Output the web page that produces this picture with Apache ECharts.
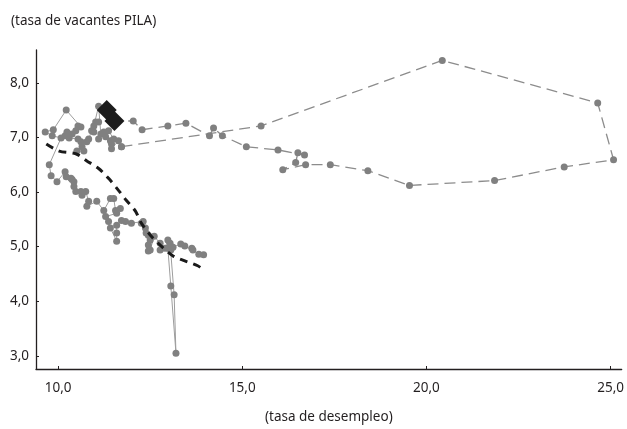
<!DOCTYPE html>
<html>
<head>
<meta charset="utf-8">
<script src="https://cdn.jsdelivr.net/npm/echarts@6/dist/echarts.min.js"></script>
<style>
    html, body { margin: 0; padding: 0; background: #fff; }
    #chart { width: 627px; height: 429px; }
</style>
</head>
<body>
<div id="chart"></div>
<script>
// tasa de desempleo (x), tasa de vacantes PILA (y)
const tramoHistoricoBajo = [
    [13.95, 4.85], [13.82, 4.86], [13.66, 4.94], [13.63, 4.97], [13.44, 5.01], [13.33, 5.05],
    [13.12, 4.99], [13.06, 4.94], [12.98, 4.97], [13.06, 4.28], [13.20, 3.05], [13.15, 4.12],
    [13.04, 5.06], [12.98, 5.12], [12.90, 4.97], [12.77, 4.94], [12.77, 5.06], [12.61, 5.19],
    [12.50, 4.94], [12.45, 4.92], [12.45, 5.03], [12.50, 5.12], [12.39, 5.25], [12.45, 5.21],
    [12.37, 5.34], [12.31, 5.46], [12.26, 5.43], [11.99, 5.43], [11.83, 5.46], [11.72, 5.48],
    [11.59, 5.39], [11.59, 5.25], [11.59, 5.10], [11.42, 5.34], [11.37, 5.46], [11.29, 5.55],
    [11.59, 5.61], [11.69, 5.70], [11.56, 5.66], [11.51, 5.88], [11.42, 5.88], [11.24, 5.66],
    [11.05, 5.83], [10.78, 5.74], [10.83, 5.83], [10.75, 6.01], [10.65, 5.94], [10.62, 6.01],
    [10.48, 6.01], [10.43, 6.10], [10.43, 6.19], [10.38, 6.23], [10.35, 6.25], [10.22, 6.28],
    [10.19, 6.37], [9.97, 6.19], [9.81, 6.30], [9.76, 6.50]
];
const tramoHistoricoAlto = [
    [10.08, 6.99], [9.84, 7.03], [9.65, 7.10], [9.87, 7.14], [10.22, 7.50], [10.62, 7.19],
    [10.54, 7.21], [10.48, 7.12], [10.38, 7.06], [10.24, 7.10], [10.19, 7.03], [10.30, 6.99],
    [10.54, 6.97], [10.62, 6.92], [10.65, 6.83], [10.70, 6.75], [10.51, 6.75], [10.78, 6.92],
    [10.83, 6.97], [10.91, 7.12], [10.97, 7.10], [11.02, 7.28], [11.10, 7.28], [10.97, 7.21],
    [11.10, 7.57], [11.16, 7.06], [11.10, 6.97], [11.24, 7.10], [11.29, 7.01], [11.37, 7.12],
    [11.51, 6.97], [11.42, 6.94], [11.45, 6.88], [11.45, 6.79], [11.64, 6.94], [11.72, 6.83]
];
const trayectoriaPandemia = [
    [11.72, 6.83], [15.51, 7.21], [20.43, 8.41], [24.65, 7.63], [25.08, 6.59], [23.74, 6.46],
    [21.85, 6.21], [19.54, 6.12], [18.41, 6.39], [17.39, 6.50], [16.72, 6.50], [16.10, 6.41],
    [16.45, 6.54], [16.51, 6.72], [16.69, 6.68], [15.97, 6.77], [15.11, 6.83], [14.46, 7.03],
    [14.22, 7.17], [14.11, 7.03], [13.47, 7.26], [12.98, 7.21], [12.28, 7.14], [12.04, 7.30],
    [11.53, 7.30], [11.32, 7.50]
];
const puntosRecientes = [[11.32, 7.50], [11.53, 7.30]];
const curvaBeveridge = [
    [9.68, 6.88], [10.03, 6.75], [10.48, 6.70], [10.78, 6.57], [11.10, 6.43], [11.37, 6.25],
    [11.64, 6.03], [11.85, 5.85], [12.10, 5.65], [12.26, 5.43], [12.53, 5.19], [12.80, 5.01],
    [13.12, 4.83], [13.44, 4.74], [13.79, 4.65], [13.92, 4.59]
];
const ticksX = [10, 15, 20, 25];
const ticksY = [3, 4, 5, 6, 7, 8];

const fuente = 'Noto Sans';
const colorTexto = '#231f20';
const coma = v => v.toFixed(1).replace('.', ',');

const chart = echarts.init(document.getElementById('chart'));
chart.setOption({
    animation: false,
    title: {
        text: '(tasa de vacantes PILA)',
        left: 6,
        top: 9,
        textStyle: { fontFamily: fuente, fontSize: 13.5, fontWeight: 'normal', color: colorTexto }
    },
    grid: { left: 36, right: 0, top: 50, bottom: 58 },
    xAxis: {
        type: 'value',
        min: 9.4,
        max: 25.3,
        name: '(tasa de desempleo)',
        nameLocation: 'middle',
        nameGap: 41,
        nameTextStyle: { fontFamily: fuente, fontSize: 13.5, color: colorTexto },
        axisLine: { lineStyle: { color: colorTexto, width: 1.3 } },
        axisTick: { inside: true, length: 3, customValues: ticksX, lineStyle: { color: colorTexto } },
        axisLabel: {
            customValues: ticksX, formatter: coma, margin: 12,
            fontFamily: fuente, fontSize: 13.5, color: colorTexto
        },
        splitLine: { show: false }
    },
    yAxis: {
        type: 'value',
        min: 2.76,
        max: 8.6,
        axisLine: { show: true, lineStyle: { color: colorTexto, width: 1.3 } },
        axisTick: { show: true, inside: true, length: 3, customValues: ticksY, lineStyle: { color: colorTexto } },
        axisLabel: {
            customValues: ticksY, formatter: coma, margin: 7,
            fontFamily: fuente, fontSize: 13.5, color: colorTexto
        },
        splitLine: { show: false }
    },
    series: [
        {
            type: 'line',
            data: tramoHistoricoBajo.concat(tramoHistoricoAlto),
            symbol: 'circle',
            symbolSize: 7,
            showAllSymbol: true,
            itemStyle: { color: '#808080' },
            lineStyle: { color: '#9d9d9d', width: 1 },
            z: 2
        },
        {
            type: 'line',
            data: trayectoriaPandemia,
            symbol: 'circle',
            symbolSize: 7,
            showAllSymbol: true,
            itemStyle: { color: '#808080' },
            lineStyle: { color: '#8c8c8c', width: 1.3, type: [11, 6] },
            z: 2
        },
        {
            type: 'scatter',
            data: puntosRecientes,
            symbol: 'diamond',
            symbolSize: 20,
            itemStyle: { color: '#1c1c1c', opacity: 1 },
            z: 3
        },
        {
            type: 'line',
            data: curvaBeveridge,
            smooth: 0.3,
            symbol: 'none',
            lineStyle: { color: '#1a1a1a', width: 3, type: [8, 6] },
            z: 4
        }
    ]
});
</script>
</body>
</html>
